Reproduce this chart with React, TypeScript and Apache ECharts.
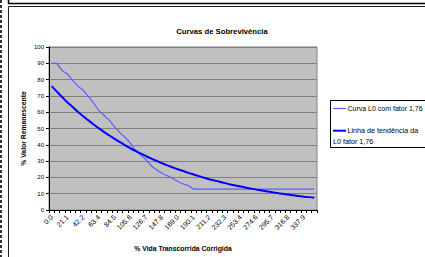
import React, { useEffect, useRef } from "react";
import * as echarts from "echarts";

const categories = [
  "0.0", "7.0", "14.1", "21.1", "28.2", "35.2", "42.2", "49.3", "56.3", "63.4",
  "70.4", "77.4", "84.5", "91.5", "98.6", "105.6", "112.6", "119.7", "126.7", "133.8",
  "140.8", "147.8", "154.9", "161.9", "169.0", "176.0", "183.0", "190.1", "197.1", "204.2",
  "211.2", "218.2", "225.3", "232.3", "239.4", "246.4", "253.4", "260.5", "267.5", "274.6",
  "281.6", "288.6", "295.7", "302.7", "309.8", "316.8", "323.8", "330.9", "337.9", "345.0",
  "352.0",
];

const curveValues = [
  90, 90, 85.5, 83.5, 79.5, 76, 73.5, 69.5, 65.5, 61,
  58, 55, 51, 47.5, 44.5, 41, 36.5, 33.5, 30.8, 27,
  24.5, 22.5, 21, 19.5, 17.5, 16, 15, 12.8, 12.8, 12.8,
  12.8, 12.8, 12.8, 12.8, 12.8, 12.8, 12.8, 12.8, 12.8, 12.8,
  12.8, 12.8, 12.8, 12.8, 12.8, 12.8, 12.8, 12.8, 12.8, 12.8,
  12.8,
];

const trendValues = [
  76.0, 72.6, 69.3, 66.1, 63.2, 60.3, 57.6, 55.0, 52.5, 50.1,
  47.8, 45.7, 43.6, 41.6, 39.7, 37.9, 36.2, 34.6, 33.0, 31.5,
  30.1, 28.7, 27.4, 26.2, 25.0, 23.9, 22.8, 21.8, 20.8, 19.8,
  18.9, 18.1, 17.3, 16.5, 15.7, 15.0, 14.4, 13.7, 13.1, 12.5,
  11.9, 11.4, 10.9, 10.4, 9.9, 9.5, 9.0, 8.6, 8.2, 7.9,
  7.5,
];

const seriesNames = ["Curva L0 com fator 1,76", "Linha de tendência da L0 fator 1,76"];
const legendLines = ["Curva L0 com fator 1,76", "Linha de tendência da", "L0 fator 1,76"];
const titleText = "Curvas de Sobrevivência";
const xName = "% Vida Transcorrida Corrigida";
const yName = "% Valor Remanescente";

const FONT = "'Liberation Sans', Arial, sans-serif";
const CURVE_COLOR = "#5c5cff";
const TREND_COLOR = "#0000ff";

export default function App() {
  const ref = useRef<HTMLDivElement>(null);

  useEffect(() => {
    if (!ref.current) return;
    const chart = echarts.init(ref.current, null, { renderer: "svg" });
    chart.setOption({
      animation: false,
      backgroundColor: "#ffffff",
      textStyle: { fontFamily: FONT },
      title: {
        text: titleText,
        left: 222,
        top: 27,
        padding: 0,
        textAlign: "center",
        textStyle: { fontFamily: FONT, fontSize: 7.7, fontWeight: "bold", color: "#000" },
      },
      grid: {
        left: 49,
        top: 47,
        right: 108,
        bottom: 42,
        show: true,
        backgroundColor: "#c0c0c0",
        borderColor: "#808080",
        borderWidth: 1,
      },
      xAxis: {
        type: "category",
        data: categories,
        boundaryGap: true,
        name: xName,
        nameLocation: "middle",
        nameGap: 35,
        nameMoveOverlap: false,
        nameTextStyle: { fontFamily: FONT, fontSize: 6.8, fontWeight: "bold", color: "#000" },
        axisLine: { show: true, lineStyle: { color: "#000", width: 1 } },
        axisTick: { show: true, interval: 0, length: 3, lineStyle: { color: "#000" } },
        axisLabel: {
          interval: 2,
          rotate: 45,
          fontSize: 7,
          margin: 6,
          color: "#000",
          fontFamily: FONT,
        },
        splitLine: { show: false },
      },
      yAxis: {
        type: "value",
        min: 0,
        max: 100,
        interval: 10,
        name: yName,
        nameLocation: "middle",
        nameGap: 22,
        nameRotate: 90,
        nameMoveOverlap: false,
        nameTextStyle: { fontFamily: FONT, fontSize: 6.8, fontWeight: "bold", color: "#000" },
        axisLine: { show: true, lineStyle: { color: "#000", width: 1 } },
        axisTick: { show: true, length: 3, lineStyle: { color: "#000" } },
        axisLabel: { fontSize: 6, margin: 5, color: "#000", fontFamily: FONT },
        splitLine: { show: true, lineStyle: { color: "#808080", width: 1 } },
      },
      series: [
        {
          name: seriesNames[0],
          type: "line",
          data: curveValues,
          symbol: "none",
          lineStyle: { color: CURVE_COLOR, width: 1.2 },
          itemStyle: { color: CURVE_COLOR },
          z: 3,
        },
        {
          name: seriesNames[1],
          type: "line",
          data: trendValues,
          symbol: "none",
          smooth: true,
          lineStyle: { color: TREND_COLOR, width: 2 },
          itemStyle: { color: TREND_COLOR },
          z: 4,
        },
      ],
      graphic: [
        { type: "rect", shape: { x: 8.5, y: -10, width: 430, height: 13.5 }, style: { fill: "none", stroke: "#000", lineWidth: 1.5 } },
        { type: "rect", shape: { x: 8.5, y: 6.5, width: 430, height: 260 }, style: { fill: "none", stroke: "#222", lineWidth: 1 } },
        { type: "line", shape: { x1: 1, y1: 0, x2: 1, y2: 257 }, style: { stroke: "#333", lineWidth: 2, lineDash: [3, 2] } },
        { type: "rect", shape: { x: 330.5, y: 100.5, width: 110, height: 47 }, style: { fill: "#fff", stroke: "#000", lineWidth: 1 } },
        { type: "line", shape: { x1: 333, y1: 108.5, x2: 346, y2: 108.5 }, style: { stroke: CURVE_COLOR, lineWidth: 1.2 } },
        { type: "text", x: 347.5, y: 108.5, style: { text: legendLines[0], font: `7px ${FONT}`, fill: "#000", textVerticalAlign: "middle" } },
        { type: "line", shape: { x1: 333, y1: 130.7, x2: 346, y2: 130.7 }, style: { stroke: TREND_COLOR, lineWidth: 2 } },
        { type: "text", x: 347.5, y: 130.7, style: { text: legendLines[1], font: `7.2px ${FONT}`, fill: "#000", textVerticalAlign: "middle" } },
        { type: "text", x: 333, y: 141, style: { text: legendLines[2], font: `7.2px ${FONT}`, fill: "#000", textVerticalAlign: "middle" } },
      ],
    });
    return () => chart.dispose();
  }, []);

  return (
    <div
      ref={ref}
      style={{ position: "fixed", left: 0, top: 0, width: 425, height: 257 }}
    />
  );
}
